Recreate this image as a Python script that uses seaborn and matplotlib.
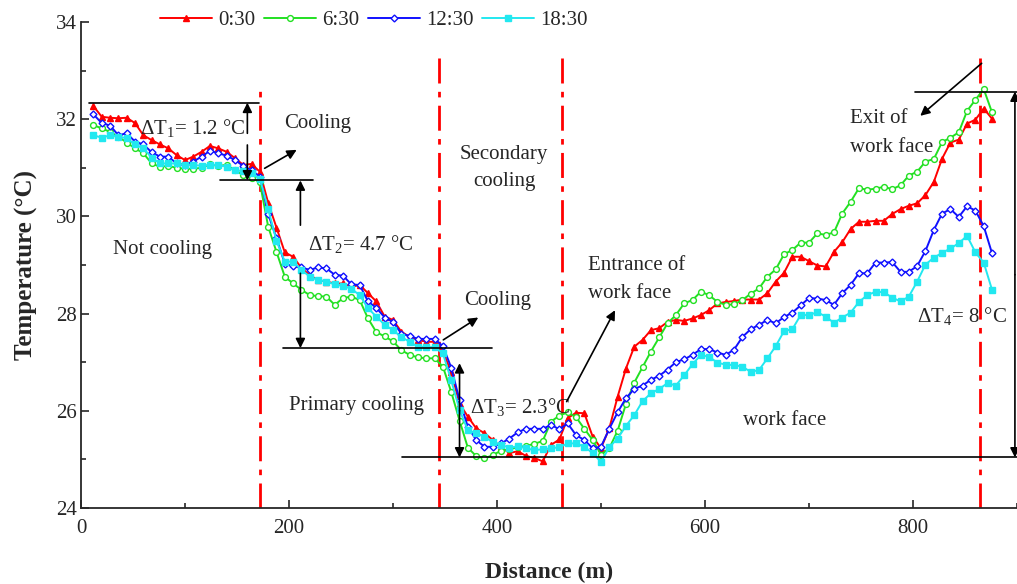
import matplotlib
matplotlib.use("Agg")
import matplotlib.pyplot as plt
import seaborn as sns
import numpy as np

# distance along the roadway (m)
distance = [12, 20, 28, 36, 44, 52, 60, 68, 76, 84, 92, 100, 108, 116, 124, 132, 140, 148, 156, 164,
            172, 180, 188, 196, 204, 212, 220, 228, 236, 244, 252, 260, 268, 276, 284, 292, 300, 308, 316, 324,
            332, 340, 348, 356, 364, 372, 380, 388, 396, 404, 412, 420, 428, 436, 444, 452, 460, 468, 476, 484,
            492, 500, 508, 516, 524, 532, 540, 548, 556, 564, 572, 580, 588, 596, 604, 612, 620, 628, 636, 644,
            652, 660, 668, 676, 684, 692, 700, 708, 716, 724, 732, 740, 748, 756, 764, 772, 780, 788, 796, 804,
            812, 820, 828, 836, 844, 852, 860, 868, 876]

t_0030 = [32.27, 32.05, 32.03, 32.02, 32.03, 31.92, 31.67, 31.57, 31.48, 31.40, 31.26, 31.16, 31.23, 31.33, 31.45, 31.40, 31.33, 31.20, 31.06, 31.08, 30.92,
          30.28, 29.77, 29.26, 29.17, 28.94, 28.79, 28.69, 28.66, 28.62, 28.62, 28.55, 28.59, 28.42, 28.25, 27.94, 27.87, 27.63, 27.52, 27.46, 27.42,
          27.42, 27.22, 26.80, 26.15, 25.88, 25.64, 25.54, 25.40, 25.25, 25.13, 25.17, 25.07, 25.03, 24.96, 25.30, 25.41, 25.85, 25.96, 25.95, 25.47,
          25.23, 25.64, 26.29, 26.87, 27.32, 27.46, 27.66, 27.70, 27.83, 27.87, 27.85, 27.90, 27.97, 28.07, 28.21, 28.24, 28.26, 28.29, 28.29, 28.29,
          28.42, 28.66, 28.84, 29.17, 29.17, 29.08, 28.99, 28.97, 29.27, 29.47, 29.74, 29.89, 29.89, 29.91, 29.91, 30.05, 30.15, 30.22, 30.27, 30.44,
          30.71, 31.19, 31.52, 31.58, 31.91, 31.99, 32.22, 32.01]

t_0630 = [31.88, 31.81, 31.74, 31.64, 31.52, 31.40, 31.30, 31.09, 31.02, 31.04, 31.00, 30.98, 30.98, 31.00, 31.07, 31.04, 31.06, 30.95, 30.85, 30.80, 30.70,
          29.79, 29.27, 28.76, 28.62, 28.49, 28.38, 28.36, 28.35, 28.18, 28.32, 28.35, 28.28, 27.90, 27.62, 27.53, 27.43, 27.25, 27.15, 27.10, 27.08,
          27.08, 26.91, 26.39, 25.80, 25.24, 25.07, 25.02, 25.09, 25.18, 25.21, 25.25, 25.28, 25.32, 25.38, 25.78, 25.90, 25.97, 25.87, 25.63, 25.40,
          25.10, 25.23, 25.59, 26.14, 26.58, 26.90, 27.22, 27.51, 27.80, 27.97, 28.21, 28.28, 28.45, 28.38, 28.24, 28.18, 28.19, 28.28, 28.41, 28.52,
          28.76, 28.91, 29.22, 29.31, 29.46, 29.46, 29.65, 29.62, 29.67, 30.06, 30.30, 30.58, 30.55, 30.57, 30.61, 30.56, 30.64, 30.84, 30.92, 31.13,
          31.18, 31.53, 31.62, 31.73, 32.17, 32.40, 32.62, 32.14]

t_1230 = [32.10, 31.92, 31.87, 31.67, 31.71, 31.54, 31.48, 31.32, 31.23, 31.23, 31.09, 31.06, 31.13, 31.23, 31.35, 31.30, 31.25, 31.16, 31.04, 30.95, 30.82,
          30.05, 29.55, 29.03, 28.97, 28.95, 28.90, 28.95, 28.93, 28.80, 28.78, 28.60, 28.59, 28.25, 28.12, 27.92, 27.83, 27.59, 27.54, 27.48, 27.48,
          27.48, 27.33, 26.89, 26.22, 25.67, 25.40, 25.26, 25.26, 25.33, 25.43, 25.56, 25.63, 25.63, 25.63, 25.71, 25.62, 25.74, 25.50, 25.40, 25.23,
          25.26, 25.63, 25.97, 26.26, 26.45, 26.52, 26.64, 26.72, 26.85, 27.00, 27.06, 27.15, 27.27, 27.27, 27.20, 27.15, 27.26, 27.52, 27.68, 27.77,
          27.87, 27.80, 27.93, 28.02, 28.17, 28.32, 28.31, 28.28, 28.18, 28.42, 28.59, 28.83, 28.83, 29.05, 29.05, 29.06, 28.86, 28.86, 28.98, 29.29,
          29.72, 30.06, 30.15, 29.99, 30.21, 30.12, 29.80, 29.24]

t_1830 = [31.67, 31.62, 31.67, 31.64, 31.61, 31.48, 31.40, 31.21, 31.09, 31.09, 31.09, 31.06, 31.06, 31.04, 31.06, 31.06, 31.02, 30.95, 30.93, 30.89, 30.78,
          30.15, 29.50, 29.07, 29.07, 28.90, 28.76, 28.69, 28.66, 28.60, 28.57, 28.51, 28.38, 28.11, 27.94, 27.77, 27.66, 27.52, 27.42, 27.32, 27.31,
          27.31, 27.18, 26.63, 26.02, 25.60, 25.54, 25.47, 25.35, 25.30, 25.24, 25.27, 25.23, 25.19, 25.21, 25.23, 25.25, 25.33, 25.33, 25.26, 25.13,
          24.95, 25.25, 25.43, 25.69, 25.91, 26.20, 26.36, 26.45, 26.57, 26.52, 26.73, 26.96, 27.15, 27.11, 26.99, 26.95, 26.94, 26.91, 26.80, 26.84,
          27.08, 27.33, 27.64, 27.68, 27.97, 27.97, 28.03, 27.94, 27.81, 27.92, 28.02, 28.24, 28.38, 28.45, 28.44, 28.33, 28.25, 28.35, 28.66, 29.01,
          29.15, 29.25, 29.34, 29.45, 29.60, 29.26, 29.05, 28.49]

labels = ["0:30", "6:30", "12:30", "18:30"]
zone_bounds = [172, 344, 463, 864]

sns.set_style("ticks")
plt.rcParams["font.family"] = ["Liberation Serif", "DejaVu Serif"]
plt.rcParams["mathtext.fontset"] = "custom"
plt.rcParams["mathtext.rm"] = "Liberation Serif"
plt.rcParams["mathtext.it"] = "Liberation Serif:italic"
plt.rcParams["mathtext.default"] = "regular"

fig = plt.figure(figsize=(10.17, 5.84), dpi=100)
ax = fig.add_axes([0.0796, 0.1301, 0.9204, 0.8322])

styles = [
    (t_0030, "#ff0000", "^", "#ff0000", 5.0),
    (t_0630, "#22e022", "o", "white", 4.2),
    (t_1230, "#1010ff", "D", "white", 3.5),
    (t_1830, "#22e8f0", "s", "#22e8f0", 4.2),
]
for (vals, col, mk, fc, ms), lab in zip(styles, labels):
    sns.lineplot(x=distance, y=vals, ax=ax, color=col, marker=mk, markersize=ms,
                 markerfacecolor=fc, markeredgecolor=col, markeredgewidth=1.0,
                 linewidth=1.4, label=lab, errorbar=None, sort=False, zorder=3)

# zone boundaries
for i, xb in enumerate(zone_bounds):
    ax.plot([xb, xb], [24, 32.66 if i == 0 else 33.35], color="red",
            linestyle=(0, (9, 3, 2, 3)), linewidth=2, zorder=2)

# reference lines
hl = dict(color="black", linewidth=1.2, zorder=4, clip_on=False)
ax.plot([8, 171], [32.34, 32.34], **hl)
ax.plot([134, 223], [30.74, 30.74], **hl)
ax.plot([194.5, 395.5], [27.29, 27.29], **hl)
ax.plot([308.6, 900], [25.04, 25.04], **hl)
ax.plot([802, 900], [32.57, 32.57], **hl)

def arrow(x0, y0, x1, y1, style="-|>"):
    ax.annotate("", xy=(x1, y1), xytext=(x0, y0),
                arrowprops=dict(arrowstyle=style, color="black", lw=1.2,
                                mutation_scale=14, shrinkA=0, shrinkB=0),
                annotation_clip=False, zorder=5)

arrow(160, 31.71, 160, 32.34)
arrow(160, 31.47, 160, 30.74)
arrow(211, 29.82, 211, 30.74)
arrow(211, 28.83, 211, 27.29)
arrow(364, 26.0, 364, 26.98)
arrow(364, 26.0, 364, 25.04)
arrow(898, 28.8, 898, 32.57)
arrow(898, 28.8, 898, 25.04)
arrow(176.6, 30.99, 207.4, 31.37)
arrow(348.4, 27.46, 382, 27.92)
arrow(467, 26.19, 513.5, 28.07)
arrow(866, 33.15, 807, 32.07)

fs = 15
ax.text(56.7, 31.69, "ΔT$_1$= 1.2 °C", fontsize=fs, va="baseline")
ax.text(218.6, 29.31, "ΔT$_2$= 4.7 °C", fontsize=fs, va="baseline")
ax.text(374, 25.96, "ΔT$_3$= 2.3°C", fontsize=fs, va="baseline")
ax.text(804, 27.83, "ΔT$_4$= 8 °C", fontsize=fs, va="baseline")
ax.text(195, 31.81, "Cooling", fontsize=fs, va="baseline")
ax.text(30.5, 29.22, "Not cooling", fontsize=fs, va="baseline")
ax.text(407, 31.18, "Secondary", fontsize=fs, va="baseline", ha="center")
ax.text(407, 30.62, "cooling", fontsize=fs, va="baseline", ha="center")
ax.text(368, 28.18, "Cooling", fontsize=fs, va="baseline")
ax.text(200.3, 26.02, "Primary cooling", fontsize=fs, va="baseline")
ax.text(488, 28.90, "Entrance of", fontsize=fs, va="baseline")
ax.text(488, 28.32, "work face", fontsize=fs, va="baseline")
ax.text(637, 25.71, "work face", fontsize=fs, va="baseline")
ax.text(739.4, 31.92, "Exit of", fontsize=fs, va="baseline")
ax.text(739.4, 31.33, "work face", fontsize=fs, va="baseline")

ax.set_xlim(0, 900)
ax.set_ylim(24, 34)
ax.set_xticks([0, 200, 400, 600, 800])
ax.set_xticks([100, 300, 500, 700, 900], minor=True)
ax.set_yticks([24, 26, 28, 30, 32, 34])
ax.set_yticks([25, 27, 29, 31, 33], minor=True)
ax.tick_params(which="both", direction="in", width=1.2, labelsize=fs)
ax.tick_params(which="major", length=6)
ax.tick_params(which="minor", length=3.5)
ax.tick_params(axis="x", pad=8)
ax.tick_params(axis="y", pad=3)
sns.despine(ax=ax)
for s in ["left", "bottom"]:
    ax.spines[s].set_linewidth(1.3)

ax.set_xlabel("Distance (m)", fontsize=17, fontweight="bold", labelpad=17)
ax.set_ylabel("Temperature (°C)", fontsize=18, fontweight="bold", labelpad=13)

ax.legend(loc="center", bbox_to_anchor=(0.313, 1.004), ncol=4, frameon=False,
          fontsize=fs, handlelength=2.5, handletextpad=0.3, columnspacing=0.4,
          borderaxespad=0)

fig.savefig("out.png", dpi=100)
